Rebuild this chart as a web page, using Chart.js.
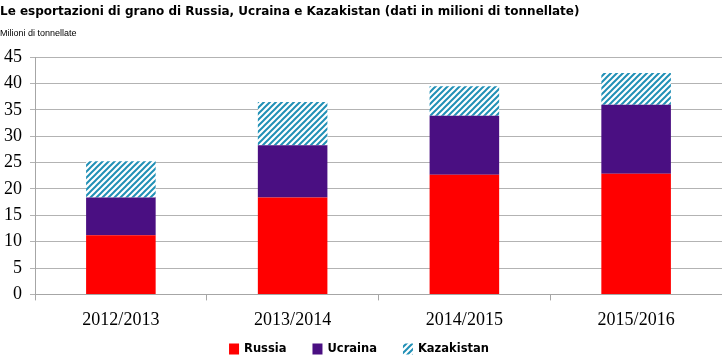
<!DOCTYPE html>
<html>
<head>
<meta charset="utf-8">
<script src="https://cdn.jsdelivr.net/npm/chart.js@4.4.1/dist/chart.umd.min.js"></script>
<style>
  html, body { margin: 0; padding: 0; background: #fff; }
  #wrap { width: 722px; height: 362px; position: relative; }
</style>
</head>
<body>
<div id="wrap"><canvas id="chart"></canvas></div>
<script>
const seasons = ['2012/2013', '2013/2014', '2014/2015', '2015/2016'];
const russia = [11.2, 18.4, 22.7, 22.9];
const ucraina = [7.2, 9.9, 11.2, 13.1];
const kazakistan = [6.85, 8.2, 5.6, 6.0];
const yTicks = [0, 5, 10, 15, 20, 25, 30, 35, 40, 45];

// diagonal teal hatch for Kazakistan
function makeHatch() {
  const size = 6;
  const c = document.createElement('canvas');
  c.width = size;
  c.height = size;
  const ctx = c.getContext('2d');
  ctx.fillStyle = '#ffffff';
  ctx.fillRect(0, 0, size, size);
  ctx.strokeStyle = '#2190b6';
  ctx.lineWidth = 2;
  ctx.beginPath();
  ctx.moveTo(-1, size + 1);
  ctx.lineTo(size + 1, -1);
  ctx.moveTo(-1, 1);
  ctx.lineTo(1, -1);
  ctx.moveTo(size - 1, size + 1);
  ctx.lineTo(size + 1, size - 1);
  ctx.stroke();
  return ctx.createPattern(c, 'repeat');
}

const hatch = makeHatch();

// legend drawn under the x labels, spaced like the original
const bottomLegend = {
  id: 'bottomLegend',
  afterDraw(chart) {
    const ctx = chart.ctx;
    const font = 'bold 11.5px "DejaVu Sans"';
    const box = 10, gapText = 5, gapItem = 26;
    const y = 349;
    ctx.save();
    ctx.font = font;
    const items = chart.data.datasets.map((ds) => ({
      label: ds.label,
      color: ds.backgroundColor,
      w: ctx.measureText(ds.label).width,
    }));
    const total = items.reduce((s, it) => s + box + gapText + it.w, 0) + gapItem * (items.length - 1);
    let x = 359 - total / 2;
    ctx.textBaseline = 'middle';
    ctx.textAlign = 'left';
    items.forEach((it) => {
      ctx.fillStyle = it.color;
      ctx.fillRect(x, y - 5.5, box, 11);
      ctx.fillStyle = '#000';
      ctx.fillText(it.label, x + box + gapText, y);
      x += box + gapText + it.w + gapItem;
    });
    ctx.restore();
  },
};

new Chart(document.getElementById('chart'), {
  type: 'bar',
  data: {
    labels: seasons,
    datasets: [
      {label: 'Russia', data: russia, backgroundColor: '#ff0000'},
      {label: 'Ucraina', data: ucraina, backgroundColor: '#4a0f82'},
      {label: 'Kazakistan', data: kazakistan, backgroundColor: hatch},
    ],
  },
  plugins: [bottomLegend],
  options: {
    responsive: true,
    maintainAspectRatio: false,
    animation: false,
    layout: {padding: {left: 0, right: 0, top: 0, bottom: 22}},
    datasets: {
      bar: {barPercentage: 0.405, categoryPercentage: 1, borderWidth: 0},
    },
    plugins: {
      title: {
        display: true,
        text: 'Le esportazioni di grano di Russia, Ucraina e Kazakistan (dati in milioni di tonnellate)',
        align: 'start',
        color: '#000',
        font: {family: 'DejaVu Sans', size: 12, weight: 'bold'},
        padding: {top: 5, bottom: 8},
      },
      subtitle: {
        display: true,
        text: 'Milioni di tonnellate',
        align: 'start',
        color: '#000',
        font: {family: 'Liberation Sans', size: 9},
        padding: {top: 1, bottom: 18},
      },
      legend: {display: false},
      tooltip: {enabled: false},
    },
    scales: {
      x: {
        stacked: true,
        grid: {drawOnChartArea: false, drawTicks: true, tickLength: 6, color: '#a6a6a6'},
        border: {color: '#a6a6a6'},
        ticks: {
          color: '#000',
          font: {family: 'Liberation Serif', size: 18},
          padding: 9,
        },
      },
      y: {
        stacked: true,
        min: 0,
        max: 45,
        afterBuildTicks: (scale) => {
          scale.ticks = yTicks.map((v) => ({value: v}));
        },
        afterFit: (scale) => {
          scale.width = 35;
        },
        grid: {color: '#b3b3b3', tickLength: 5},
        border: {color: '#a6a6a6'},
        ticks: {
          color: '#000',
          font: {family: 'Liberation Serif', size: 18},
          padding: 8,
        },
      },
    },
  },
});
</script>
</body>
</html>
